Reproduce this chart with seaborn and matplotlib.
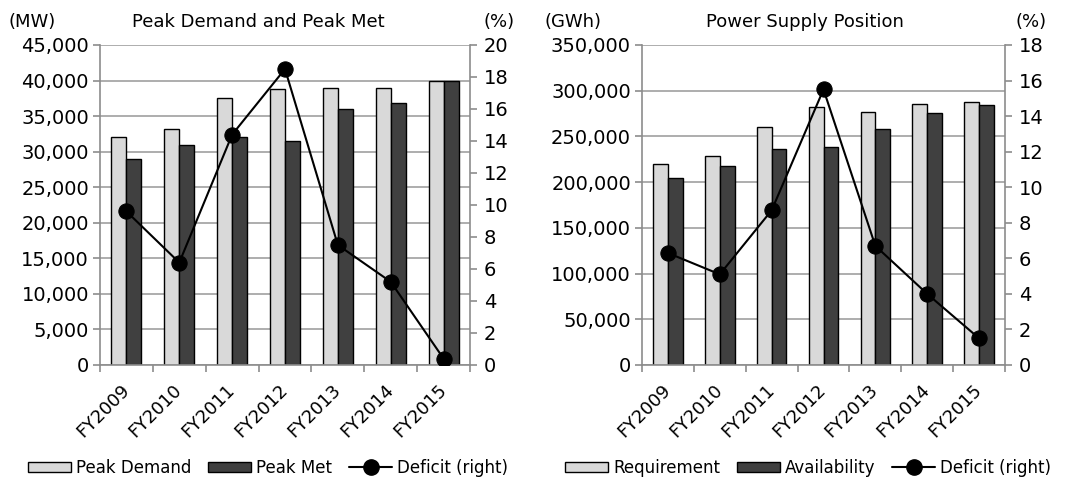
import numpy as np
import pandas as pd
import matplotlib
matplotlib.use("Agg")
import matplotlib.pyplot as plt
import seaborn as sns
from matplotlib.ticker import FuncFormatter, MultipleLocator
from matplotlib.patches import Patch
from matplotlib.lines import Line2D

# ---------------- data ----------------
years = ["FY2009", "FY2010", "FY2011", "FY2012", "FY2013", "FY2014", "FY2015"]

peak_demand = [32000, 33200, 37600, 38800, 39000, 39000, 40000]
peak_met = [28900, 31000, 32000, 31500, 36000, 36900, 39950]
peak_deficit = [9.6, 6.4, 14.4, 18.5, 7.5, 5.2, 0.4]

requirement = [220000, 229000, 260000, 282500, 277000, 286000, 288000]
availability = [205000, 218000, 236700, 238200, 258500, 275200, 284500]
energy_deficit = [6.3, 5.1, 8.7, 15.5, 6.7, 4.0, 1.5]

# ---------------- style ----------------
sns.set_theme(style="white")
plt.rcParams["font.family"] = ["DejaVu Sans"]
plt.rcParams["text.color"] = "black"

LIGHT = "#D9D9D9"
DARK = "#404040"
GRID = "#A0A0A0"
SPINE = "#8C8C8C"

W, H = 1067, 479
fig = plt.figure(figsize=(W / 100, H / 100), dpi=100)


def draw(rect, s1, s2, n1, n2, deficit, ymax, ystep, rmax, rstep):
    ax = fig.add_axes(rect)
    df = pd.DataFrame({
        "year": years * 2,
        "value": list(s1) + list(s2),
        "series": [n1] * len(years) + [n2] * len(years),
    })
    sns.barplot(data=df, x="year", y="value", hue="series",
                palette=[LIGHT, DARK], saturation=1, width=0.57,
                edgecolor="black", linewidth=1.0, ax=ax, legend=False)
    ax.set_ylim(0, ymax)
    ax.yaxis.set_major_locator(MultipleLocator(ystep))
    ax.yaxis.set_major_formatter(FuncFormatter(lambda v, p: f"{int(v):,}"))
    ax.set_axisbelow(True)
    ax.yaxis.grid(True, color=GRID, lw=1.2)
    ax.xaxis.grid(False)
    ax.set_xlabel("")
    ax.set_ylabel("")
    for s in ["top", "right"]:
        ax.spines[s].set_visible(False)
    for s in ["left", "bottom"]:
        ax.spines[s].set_color(SPINE)
        ax.spines[s].set_linewidth(1.2)
    ax.tick_params(axis="y", direction="out", length=5, width=1.2,
                   color=SPINE, labelcolor="black", labelsize=14, pad=3, left=True)
    ax.set_xticks(range(len(years)))
    ax.set_xticklabels(years, rotation=45, ha="right", va="center",
                       rotation_mode="anchor", fontsize=13)
    ax.tick_params(axis="x", which="major", length=0, pad=16, labelcolor="black")
    ax.set_xticks(np.arange(-0.5, len(years), 1.0), minor=True)
    ax.tick_params(axis="x", which="minor", direction="out", length=5,
                   width=1.2, color=SPINE, bottom=True)

    axr = ax.twinx()
    sns.lineplot(x=np.arange(len(years)), y=deficit, ax=axr, color="black",
                 lw=1.5, marker="o", markersize=11, markeredgecolor="black",
                 markerfacecolor="black", legend=False)
    axr.set_ylim(0, rmax)
    axr.yaxis.set_major_locator(MultipleLocator(rstep))
    axr.set_ylabel("")
    axr.set_xlabel("")
    axr.grid(False)
    for s in ["top", "left", "bottom"]:
        axr.spines[s].set_visible(False)
    axr.spines["right"].set_color(SPINE)
    axr.spines["right"].set_linewidth(1.2)
    axr.tick_params(axis="y", direction="out", length=5, width=1.2,
                    color=SPINE, labelcolor="black", labelsize=14, pad=5, right=True)
    ax.set_xlim(-0.5, len(years) - 0.5)
    return ax, axr


bottom = 1 - 365 / H
height = 320 / H
draw([100 / W, bottom, 370 / W, height], peak_demand, peak_met,
     "Peak Demand", "Peak Met", peak_deficit, 45000, 5000, 20, 2)
draw([642 / W, bottom, 363 / W, height], requirement, availability,
     "Requirement", "Availability", energy_deficit, 350000, 50000, 18, 2)

# headers
ty = 1 - 22 / H
fig.text(8 / W, ty, "(MW)", fontsize=13, ha="left", va="center")
fig.text(258 / W, ty, "Peak Demand and Peak Met", fontsize=13, ha="center", va="center")
fig.text(499 / W, ty, "(%)", fontsize=13, ha="center", va="center")
fig.text(545 / W, ty, "(GWh)", fontsize=13, ha="left", va="center")
fig.text(805 / W, ty, "Power Supply Position", fontsize=13, ha="center", va="center")
fig.text(1031 / W, ty, "(%)", fontsize=13, ha="center", va="center")


def legend(cx, n1, n2):
    handles = [
        Patch(facecolor=LIGHT, edgecolor="black", lw=1.0),
        Patch(facecolor=DARK, edgecolor="black", lw=1.0),
        Line2D([0], [0], color="black", lw=1.5, marker="o", markersize=11),
    ]
    fig.legend(handles, [n1, n2, "Deficit (right)"], loc="center",
               bbox_to_anchor=(cx / W, 1 - 468 / H), ncol=3, frameon=False,
               fontsize=12, handlelength=2.6, handleheight=0.6,
               handletextpad=0.3, columnspacing=1.0, borderpad=0,
               labelcolor="black")


legend(268, "Peak Demand", "Peak Met")
legend(808, "Requirement", "Availability")

fig.savefig("out.png", dpi=100)
